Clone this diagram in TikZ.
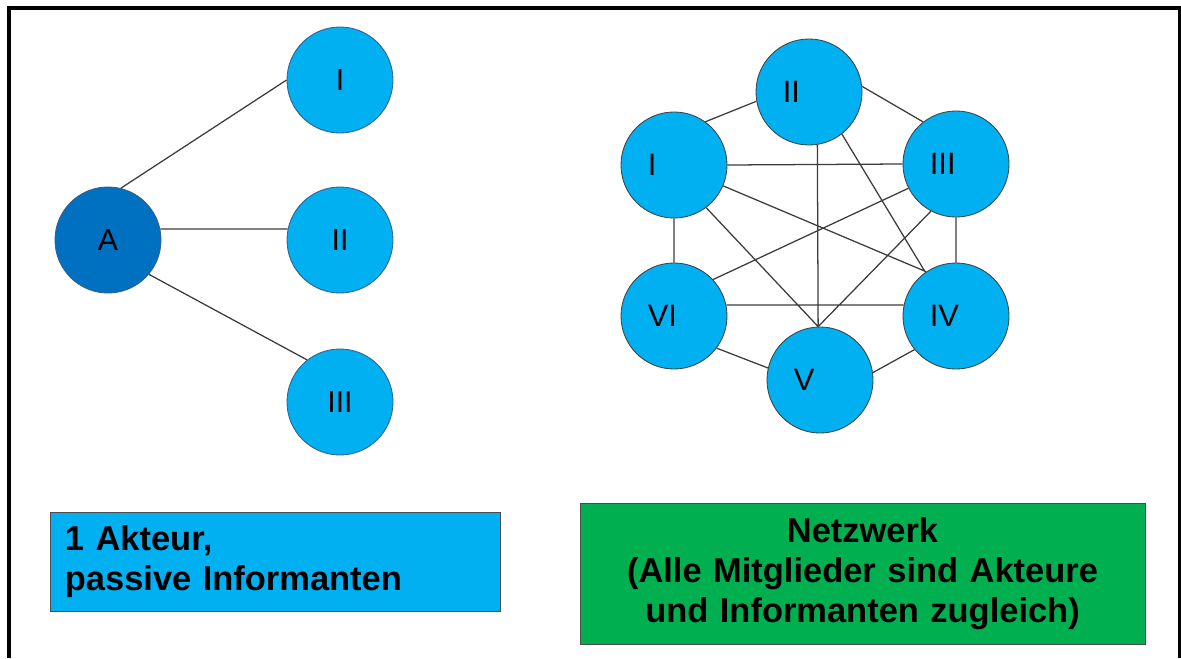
\documentclass[tikz,border=0pt]{standalone}
\usepackage{fontspec}
\setmainfont{Liberation Sans}
\definecolor{hellblau}{RGB}{0,176,240}
\definecolor{dunkelblau}{RGB}{0,112,192}
\definecolor{gruen}{RGB}{0,176,80}
\definecolor{randblau}{RGB}{56,93,138}
\definecolor{kante}{RGB}{60,60,60}
\begin{document}
\begin{tikzpicture}[x=0.025cm, y=-0.025cm,
    knoten/.style={circle, minimum size=2.65cm, inner sep=0,
          fill=hellblau, draw=randblau, line width=0.6pt,
          font=\fontsize{21.5}{26}\selectfont},
    hexknoten/.style={knoten, draw=black!75,
          label={[anchor=west, inner sep=0, xshift=0.675cm,
          font=\fontsize{22}{26}\selectfont]west:#1}},
    verb/.style={draw=kante, line width=0.9pt},
    kasten/.style={draw=black!70, line width=0.6pt, inner ysep=0,
          inner xsep=0.375cm,
          font=\fontsize{24.5}{28.5}\selectfont\bfseries}]
    \useasboundingbox (0,0) rectangle (1181,658);
    \draw[line width=2.2pt] (9,658) -- (9,8) -- (1180,8) -- (1180,658);

    % ein Akteur, drei Informanten
    \node[knoten, fill=dunkelblau] (a) at (108,240) {A};
    \node[knoten] (i1) at (340,80) {I};
    \node[knoten] (i2) at (340,240) {II};
    \node[knoten] (i3) at (340,402) {III};
    \draw[verb] (a.76) -- (i1.180)
          (a.12) -- (i2.168)
          (a.-40) -- (i3.128);

    % Netzwerk
    \node[hexknoten=I] (h1) at (674,165) {};
    \node[hexknoten=II] (h2) at (809,92) {};
    \node[hexknoten=III] (h3) at (956,164) {};
    \node[hexknoten=IV] (h4) at (956,316) {};
    \node[hexknoten=V] (h5) at (820,380) {};
    \node[hexknoten=VI] (h6) at (674,316) {};
    \draw[verb] (h1.54) -- (h2.190)
          (h2.6) -- (h3.128)
          (h1.east) -- (h3.west)
          (h1.south) -- (h6.north)
          (h3.south) -- (h4.north)
          (h6.12) -- (h4.168)
          (h6.-37) -- (h5.167)
          (h5.8) -- (h4.219)
          (h2.-81) -- (h5.92)
          (h1.-23) -- (h4.124)
          (h6.43) -- (h3.207)
          (h1.-53) -- (h5.92)
          (h3.242) -- (h5.92)
          (h2.-52) -- (h4.125);

    \node[kasten, fill=hellblau, minimum height=2.475cm,
          text width=10.5cm, align=left] (k1) at (275,561.5)
          {1 Akteur,\\ passive Informanten};
    \node[kasten, fill=gruen, minimum height=3.525cm,
          text width=13.375cm, align=center] (k2) at (862.5,573.5)
          {Netzwerk\\ (Alle Mitglieder sind Akteure\\ und Informanten zugleich)};
\end{tikzpicture}
\end{document}
